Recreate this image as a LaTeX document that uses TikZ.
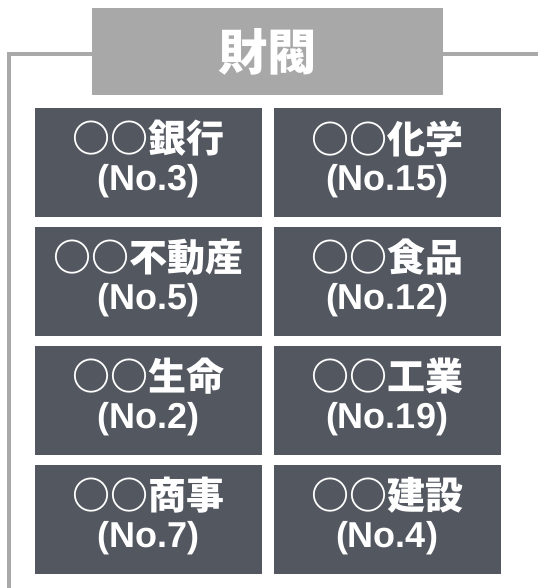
\documentclass[tikz,border=0pt]{standalone}
\usepackage{fontspec}
\newfontfamily\jp{Noto Sans CJK JP}
\newfontfamily\lat{Liberation Sans}
\definecolor{framegray}{HTML}{A9A9A9}
\definecolor{titlegray}{HTML}{A8A8A8}
\definecolor{boxgray}{HTML}{53575F}
\tikzset{
  frameline/.style={draw=framegray, line width=3pt},
  titlebox/.style={fill=titlegray, draw=none, minimum width=263.25pt, minimum height=65.25pt, inner sep=0pt, text=white, font=\jp\bfseries\fontsize{37}{40}\selectfont},
  cell/.style={fill=boxgray, draw=none, minimum width=170.25pt, minimum height=81.75pt, inner sep=0pt},
  lineone/.style={text=white, inner sep=0pt, font=\jp\bfseries\fontsize{28.5}{32}\selectfont},
  linetwo/.style={text=white, inner sep=0pt, font=\lat\bfseries\fontsize{27}{30}\selectfont},
}
\begin{document}
\begin{tikzpicture}[x=0.75pt,y=-0.75pt]
\useasboundingbox (0,0) rectangle (538,588);
\node[titlebox] (title) at (267.5,51.5) {財閥};
\coordinate (tl) at (8.5,54.5);
\coordinate (bl) at (8.5,590);
\coordinate (tr) at (540,54.5);
\draw[frameline] (bl) -- (tl) -- (title.west |- tl);
\draw[frameline] (title.east |- tr) -- (tr);
\foreach \nm/\x/\y/\a/\b in {
  c11/148.5/162.5/○○銀行/(No.3),
  c12/387/162.5/○○化学/(No.15),
  c21/148.5/281.5/○○不動産/(No.5),
  c22/387/281.5/○○食品/(No.12),
  c31/148.5/400.5/○○生命/(No.2),
  c32/387/400.5/○○工業/(No.19),
  c41/148.5/519/○○商事/(No.7),
  c42/387/519/○○建設/(No.4)}{
  \node[cell] (\nm) at (\x,\y) {};
  \node[lineone] (\nm a) at (\x,\y-24) {\a};
  \node[linetwo] (\nm b) at (\x,\y+19) {\b};
}
\end{tikzpicture}
\end{document}
